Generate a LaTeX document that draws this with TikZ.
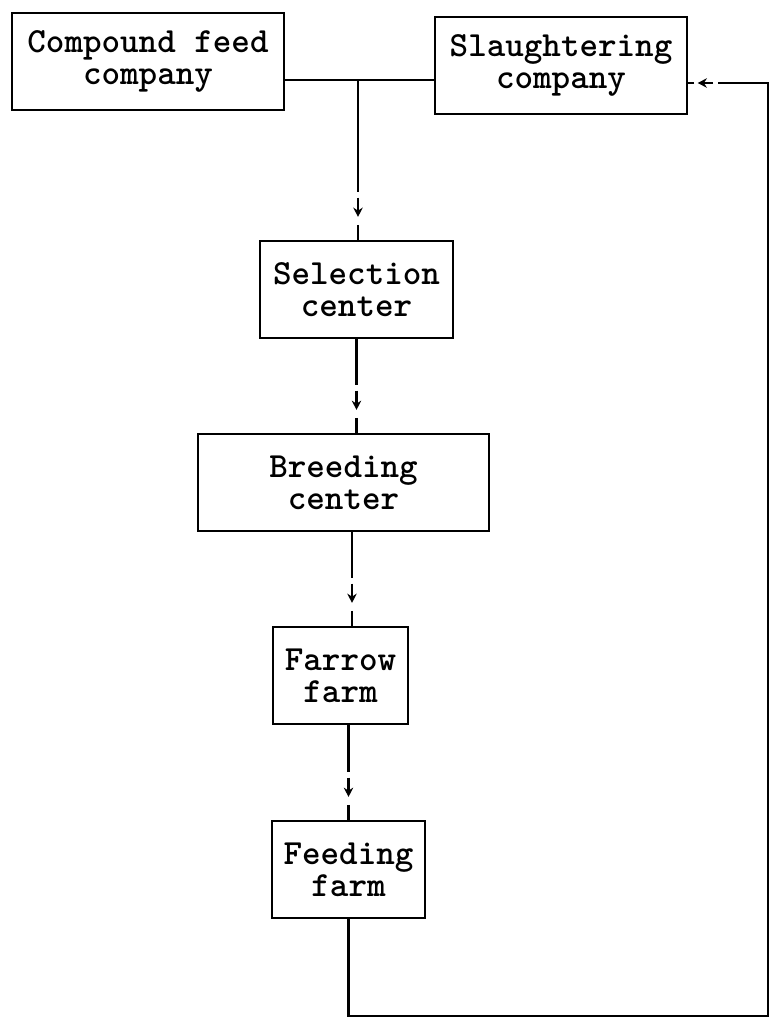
\documentclass[tikz,border=0pt]{standalone}
\usepackage{fontspec}
\usetikzlibrary{arrows.meta,calc}

% line with a small arrow set in its gap, just before the box it feeds
\newcommand{\brokenlink}[2]{%
  \draw[link] (#1) -- ($(#2)!36pt!(#1)$);
  \draw[link, -{Stealth[length=7pt,width=7pt]}] ($(#2)!31.5pt!(#1)$) -- ($(#2)!17pt!(#1)$);
  \draw[link] ($(#2)!11pt!(#1)$) -- (#2);}

\begin{document}
\begin{tikzpicture}[x=0.75pt, y=-0.75pt,
    unit/.style={draw, line width=1.8pt, inner sep=0pt, align=center,
                 minimum height=73pt,
                 font=\ttfamily\bfseries\fontsize{26.5pt}{24pt}\selectfont},
    link/.style={line width=1.7pt}]
  \useasboundingbox (0,0) rectangle (771,1017);

  % chain members
  \node[unit, minimum width=204pt]    (cfc) at (148,61.5)  {Compound feed\\company};
  \node[unit, minimum width=189pt]    (slc) at (561,65.5)  {Slaughtering\\company};
  \node[unit, minimum width=144.75pt] (sel) at (356.5,289.5) {Selection\\center};
  \node[unit, minimum width=218.25pt] (brd) at (343.5,482.5) {Breeding\\center};
  \node[unit, minimum width=101.25pt] (far) at (340.5,675.5) {Farrow\\farm};
  \node[unit, minimum width=114.75pt] (fed) at (348.5,869.5) {Feeding\\farm};

  % top junction between the two companies
  \coordinate (j) at (358,80);
  \draw[link] (j -| cfc.east) -- (j -| slc.west);
  \coordinate (j1) at (j |- sel.north);
  \brokenlink{j}{j1}

  % down the chain
  \coordinate (s1) at (sel.south |- brd.north);
  \brokenlink{sel.south}{s1}
  \coordinate (b0) at ($(brd.south)+(8.5,0)$);
  \coordinate (b1) at (b0 |- far.north);
  \brokenlink{b0}{b1}
  \coordinate (f0) at (far.south -| fed.north);
  \brokenlink{f0}{fed.north}

  % return to the slaughtering company
  \coordinate (ret) at (768,1016);
  \coordinate (r) at ($(slc.east)+(0,17.5)$);
  \coordinate (rc) at (ret |- r);
  \draw[link] (fed.south) |- (ret) -- (rc) -- ($(r)!22.5pt!(rc)$);
  \draw[link, -{Stealth[length=7pt,width=7pt]}] ($(r)!18.75pt!(rc)$) -- ($(r)!7pt!(rc)$);
  \draw[link] ($(r)!4.5pt!(rc)$) -- (r);
\end{tikzpicture}
\end{document}
